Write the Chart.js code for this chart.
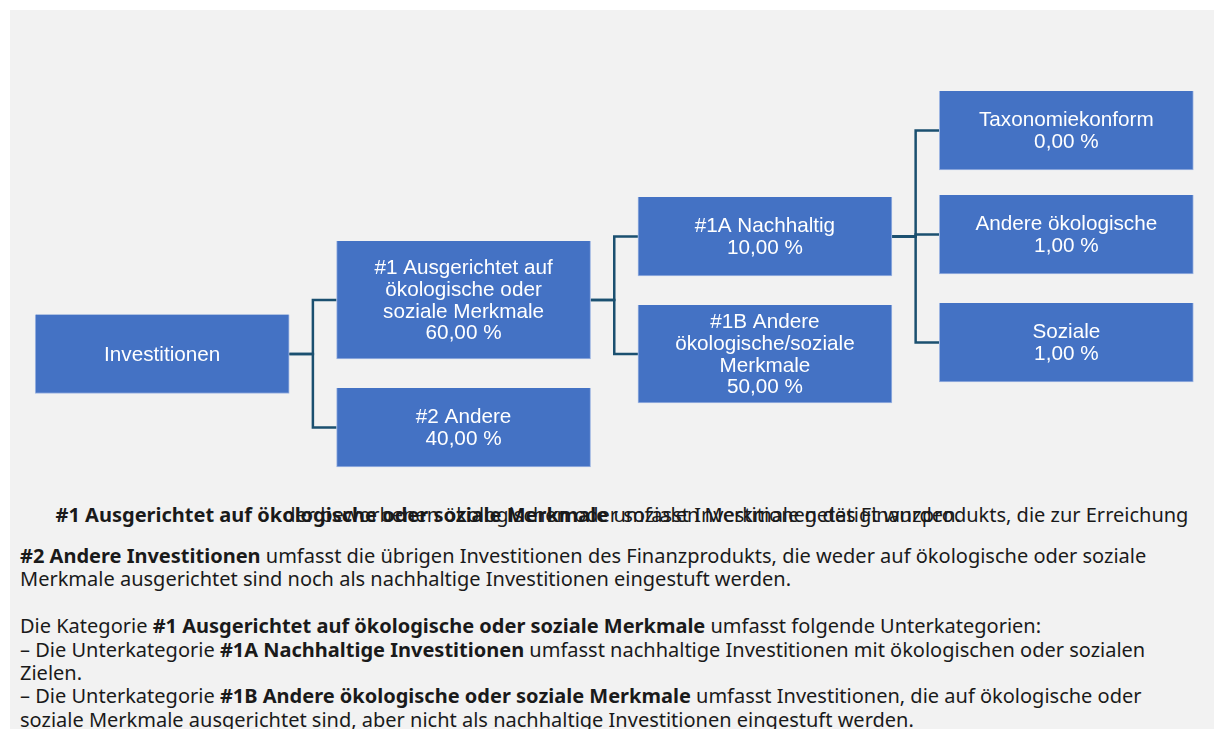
<!DOCTYPE html>
<html lang="de">
<head>
<meta charset="utf-8">
<script src="https://cdn.jsdelivr.net/npm/chart.js@4"></script>
<style>
    body { margin: 0; background: #fff; }
    #panel { position: absolute; left: 10px; top: 10px; width: 1204px; height: 719px; background: #f2f2f2; overflow: hidden; }
    #chartBox { position: relative; width: 1204px; height: 490px; }
    .txt { font-family: "Noto Sans", sans-serif; font-size: 20px; color: #1a1a1a; padding: 0 10px; }
    #p1 { line-height: 0; text-align: center; margin: 15px 0 0 32px; width: 1160px; padding: 0; }
    #p2 { line-height: 23.4px; margin-top: 29px; }
    #p3 { line-height: 23.4px; margin-top: 23.4px; }
</style>
</head>
<body>
<div id="panel">
    <div id="chartBox"><canvas id="myChart"></canvas></div>
    <div id="p1" class="txt"><b>#1 Ausgerichtet auf ökologische oder soziale Merkmale</b> umfasst Investitionen des Finanzprodukts, die zur Erreichung der beworbenen ökologischen oder sozialen Merkmale getätigt wurden.</div>
    <div id="p2" class="txt"><b>#2 Andere Investitionen</b> umfasst die übrigen Investitionen des Finanzprodukts, die weder auf ökologische oder soziale Merkmale ausgerichtet sind noch als nachhaltige Investitionen eingestuft werden.</div>
    <div id="p3" class="txt">Die Kategorie <b>#1 Ausgerichtet auf ökologische oder soziale Merkmale</b> umfasst folgende Unterkategorien:<br>– Die Unterkategorie <b>#1A Nachhaltige Investitionen</b> umfasst nachhaltige Investitionen mit ökologischen oder sozialen Zielen.<br>– Die Unterkategorie <b>#1B Andere ökologische oder soziale Merkmale</b> umfasst Investitionen, die auf ökologische oder soziale Merkmale ausgerichtet sind, aber nicht als nachhaltige Investitionen eingestuft werden.</div>
</div>
<script>
// Daten
const nodeLabels = [
    ['Investitionen'],
    ['#1 Ausgerichtet auf', 'ökologische oder', 'soziale Merkmale'],
    ['#2 Andere'],
    ['#1A Nachhaltig'],
    ['#1B Andere', 'ökologische/soziale', 'Merkmale'],
    ['Taxonomiekonform'],
    ['Andere ökologische'],
    ['Soziale']
];
const shares = [null, 60, 40, 10, 50, 0, 1, 1];   // Anteil in %
const parents = [null, 0, 0, 1, 1, 3, 3, 3];

// Layout (Spalte, Mitte der Box, Höhe der Box)
const column = [0, 1, 1, 2, 2, 3, 3, 3];
const rowCentre = [344, 290, 417.5, 226.5, 344, 120.5, 224.5, 332.5];
const boxHeight = [79, 118, 79, 79, 98, 79, 79, 79];

const BOX_HALF = 0.4215;  // halbe Boxbreite in Spalten-Einheiten
const fmt = v => v.toFixed(2).replace('.', ',') + ' %';

const boxes = column.map((c, i) => ({ x: c, y: [rowCentre[i] - boxHeight[i] / 2, rowCentre[i] + boxHeight[i] / 2] }));

const connectors = [];
parents.forEach((p, i) => {
    if (p === null) return;
    const mid = column[p] + 0.5;
    connectors.push({
        type: 'line',
        data: [
            { x: column[p] + BOX_HALF, y: rowCentre[p] },
            { x: mid, y: rowCentre[p] },
            { x: mid, y: rowCentre[i] },
            { x: column[i] - BOX_HALF, y: rowCentre[i] }
        ],
        borderColor: '#1b5070',
        borderWidth: 2.5,
        pointRadius: 0,
        tension: 0,
        fill: false,
        borderJoinStyle: 'miter',
        order: 2
    });
});

const boxText = {
    id: 'boxText',
    afterDatasetsDraw(chart) {
        const ctx = chart.ctx;
        const meta = chart.getDatasetMeta(0);
        ctx.save();
        ctx.fillStyle = '#ffffff';
        ctx.font = '20.7px "Liberation Sans", Arial, sans-serif';
        ctx.textAlign = 'center';
        ctx.textBaseline = 'middle';
        meta.data.forEach((el, i) => {
            const lines = nodeLabels[i].slice();
            if (shares[i] !== null) lines.push(fmt(shares[i]));
            const lh = 21.8;
            const cy = (el.y + el.base) / 2;
            let y = cy - (lines.length - 1) * lh / 2 + 1;
            lines.forEach(t => { ctx.fillText(t, el.x, y); y += lh; });
        });
        ctx.restore();
    }
};

const config = {
    type: 'bar',
    data: {
        datasets: [{
            data: boxes,
            backgroundColor: '#4472c4',
            borderColor: '#9fb6e2',
            borderWidth: 1,
            barThickness: 254,
            order: 1
        }].concat(connectors)
    },
    options: {
        responsive: true,
        maintainAspectRatio: false,
        animation: false,
        layout: { padding: 0 },
        plugins: { legend: false, tooltip: false },
        scales: {
            x: { type: 'linear', min: -0.505, max: 3.49, offset: false, display: false },
            y: { type: 'linear', min: 0, max: 490, reverse: true, display: false }
        }
    },
    plugins: [boxText]
};

new Chart(document.getElementById('myChart'), config);
</script>
</body>
</html>
